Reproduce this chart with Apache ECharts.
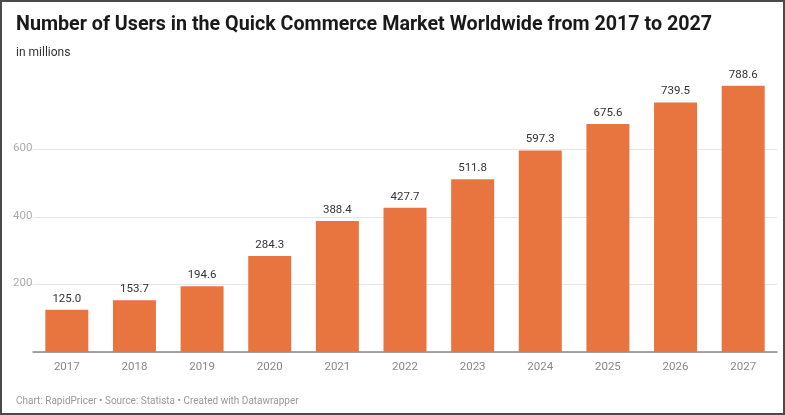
<!DOCTYPE html>
<html lang="en">
<head>
    <meta charset="UTF-8">
    <title>Quick Commerce Users</title>
    <script src="https://cdn.jsdelivr.net/npm/echarts@6/dist/echarts.min.js"></script>
    <style>
        * { margin: 0; padding: 0; box-sizing: border-box; }
        body { width: 785px; height: 415px; background: #fff; }
        #chart {
            width: 785px;
            height: 415px;
            border: 2px solid #4a4a4a;
        }
    </style>
</head>
<body>
    <div id="chart"></div>
    <script>
        // data
        const years = ['2017', '2018', '2019', '2020', '2021', '2022', '2023', '2024', '2025', '2026', '2027'];
        const users = [125.0, 153.7, 194.6, 284.3, 388.4, 427.7, 511.8, 597.3, 675.6, 739.5, 788.6];

        const chart = echarts.init(document.getElementById('chart'));
        chart.setOption({
            animation: false,
            textStyle: { fontFamily: 'Roboto' },
            title: [
                {
                    text: 'Number of Users in the Quick Commerce Market Worldwide from 2017 to 2027',
                    left: 9, top: 8,
                    textStyle: { fontSize: 19.7, fontWeight: 'bold', color: '#1a1a1a', fontFamily: 'Roboto' }
                },
                {
                    text: 'in millions',
                    left: 9, top: 40,
                    textStyle: { fontSize: 12, fontWeight: 'normal', color: '#333', fontFamily: 'Roboto' }
                },
                {
                    text: 'Chart: RapidPricer • Source: Statista • Created with Datawrapper',
                    left: 9, top: 389,
                    textStyle: { fontSize: 10, fontWeight: 'normal', color: '#999', fontFamily: 'Roboto' }
                }
            ],
            grid: { left: 31, right: 6, top: 80, bottom: 61 },
            xAxis: {
                type: 'category',
                data: years,
                axisLine: { lineStyle: { color: '#888', width: 1.5 } },
                axisTick: { show: false },
                axisLabel: { color: '#888', fontSize: 11.5, margin: 9 }
            },
            yAxis: {
                type: 'value',
                min: 0, max: 800, interval: 200,
                axisLine: { show: false },
                axisTick: { show: false },
                axisLabel: {
                    color: '#aaa', fontSize: 11.5, align: 'left', margin: 20,
                    verticalAlign: 'bottom', padding: [0, 0, -5, 0],
                    formatter: v => (v === 0 || v === 800) ? '' : v
                },
                splitLine: { lineStyle: { color: ['#e6e6e6', '#e6e6e6', '#e6e6e6', '#e6e6e6', 'rgba(0,0,0,0)'], width: 1 } }
            },
            series: [{
                type: 'bar',
                data: users,
                barWidth: 43,
                itemStyle: { color: '#e87540' },
                label: {
                    show: true, position: 'top', distance: 5,
                    color: '#333', fontSize: 11.5,
                    formatter: p => p.value.toFixed(1)
                }
            }]
        });
    </script>
</body>
</html>
